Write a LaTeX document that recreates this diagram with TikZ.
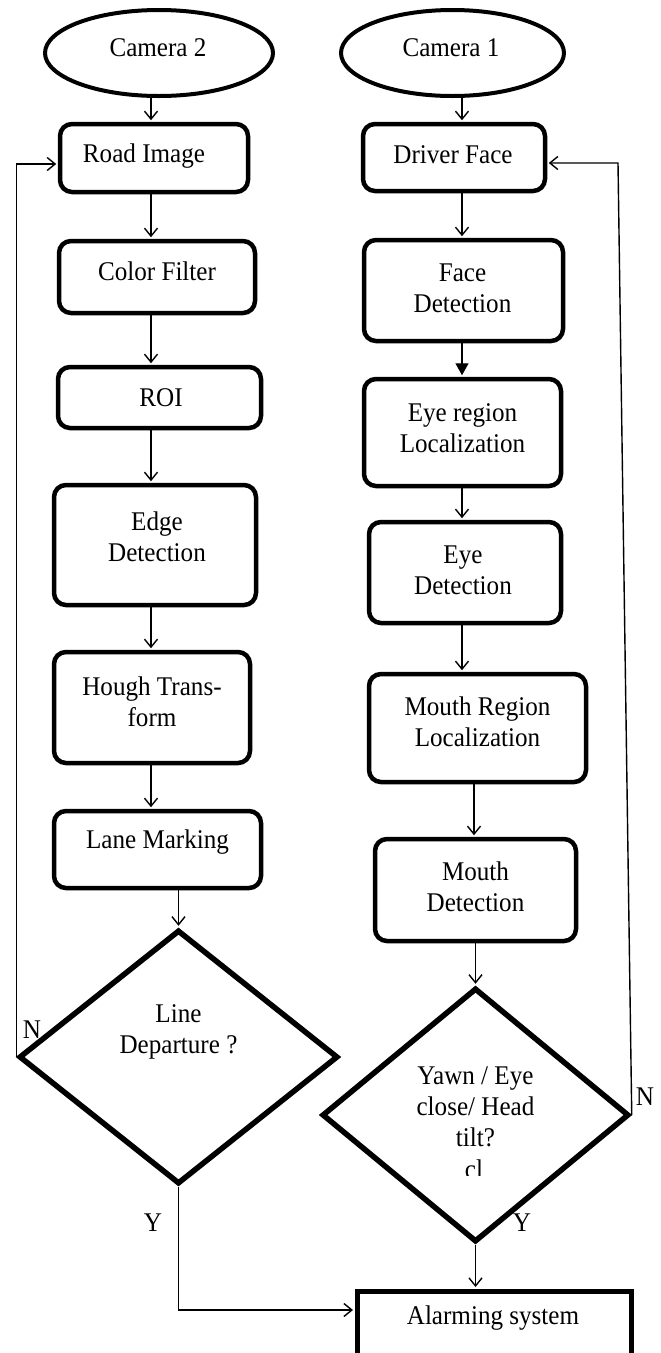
\documentclass[tikz,border=0pt]{standalone}
\usepackage{fontspec}
\setmainfont{Liberation Serif}
\newfontfamily\diafont[FakeStretch=0.93]{Liberation Serif}
\usetikzlibrary{shapes.geometric,arrows.meta}
\tikzset{
  lbl/.style={font=\diafont\fontsize{27}{31}\selectfont, align=center, inner sep=0pt},
  pbox/.style={draw, line width=4.5pt, rounded corners=12pt, inner sep=0pt},
  cam/.style={draw, ellipse, line width=4pt, inner sep=0pt},
  dia/.style={draw, diamond, line width=5.5pt, inner sep=0pt},
  flow/.style={line width=1.4pt, shorten >=1.5pt, -{Straight Barb[length=8pt,width=13pt]}},
  filledflow/.style={line width=1.4pt, shorten >=1.5pt, -{Triangle[length=12pt,width=13pt]}}
}
\begin{document}
\begin{tikzpicture}[x=1pt,y=-1pt]
\useasboundingbox (0,0) rectangle (661,1353);
\fill[white] (0,0) rectangle (661,1353);
\coordinate (lx) at (151,0);
\coordinate (rx) at (462,0);
\coordinate (rx2) at (474,0);

% left column
\node[cam, minimum width=228pt, minimum height=86pt,
  label={[lbl,name=cam2t,xshift=-1pt,yshift=5pt]center:Camera 2}] (cam2) at (159,53) {};
\node[pbox, minimum width=188pt, minimum height=68pt,
  label={[lbl,name=roadt,xshift=-10pt,yshift=2pt]center:Road Image}] (road) at (154,158) {};
\node[pbox, minimum width=196pt, minimum height=72pt,
  label={[lbl,name=colort,yshift=6pt]center:Color Filter}] (color) at (157,277) {};
\node[pbox, minimum width=203pt, minimum height=61pt,
  label={[lbl,name=roit,xshift=1.5pt,yshift=0pt]center:ROI}] (roi) at (159.5,397.5) {};
\node[pbox, minimum width=202pt, minimum height=120pt,
  label={[lbl,name=edget,xshift=2pt,yshift=8pt]center:{Edge\\Detection}}] (edge) at (155,545) {};
\node[pbox, minimum width=196pt, minimum height=111pt,
  label={[lbl,name=hought,yshift=5.5pt]center:{Hough Trans-\\form}}] (hough) at (152,707.5) {};
\node[pbox, minimum width=207pt, minimum height=77pt,
  label={[lbl,name=lanet,yshift=7pt]center:Lane Marking}] (lane) at (157.5,849.5) {};
\node[dia, minimum width=319pt, minimum height=254pt,
  label={[lbl,name=ldiamt,yshift=25pt]center:{Line\\Departure ?}}] (ldiam) at (178.5,1057) {};

% right column
\node[cam, minimum width=223pt, minimum height=86pt,
  label={[lbl,name=cam1t,xshift=-1.5pt,yshift=5pt]center:Camera 1}] (cam1) at (452.5,53) {};
\node[pbox, minimum width=182pt, minimum height=67pt,
  label={[lbl,name=drivert,xshift=-1pt,yshift=3pt]center:Driver Face}] (driver) at (454,157.5) {};
\node[pbox, minimum width=199pt, minimum height=101pt,
  label={[lbl,name=facedett,xshift=-1pt,yshift=2pt]center:{Face\\Detection}}] (facedet) at (463.5,290.5) {};
\node[pbox, minimum width=197pt, minimum height=107pt,
  label={[lbl,name=eyeregt,yshift=4pt]center:{Eye region\\Localization}}] (eyereg) at (462.5,432.5) {};
\node[pbox, minimum width=192pt, minimum height=101pt,
  label={[lbl,name=eyedett,xshift=-2pt,yshift=2pt]center:{Eye\\Detection}}] (eyedet) at (465,572.5) {};
\node[pbox, minimum width=217pt, minimum height=108pt,
  label={[lbl,name=mouthregt,yshift=6.5pt]center:{Mouth Region\\Localization}}] (mouthreg) at (477.5,728) {};
\node[pbox, minimum width=201pt, minimum height=102pt,
  label={[lbl,name=mouthdett,yshift=3.5pt]center:{Mouth\\Detection}}] (mouthdet) at (475.5,890) {};
\node[dia, minimum width=307pt, minimum height=254pt,
  label={[lbl,name=ydiamt,yshift=8pt]center:{Yawn / Eye\\close/ Head\\tilt?}}] (ydiam) at (475.5,1115) {};
\begin{scope}
  \clip (440,1150) rectangle (510,1175);
  \node[lbl] (clt) at (474,1169) {cl};
\end{scope}

% alarm
\node[draw, line width=5pt, inner sep=0pt, minimum width=274pt, minimum height=80pt,
  label={[lbl,name=alarmt,xshift=-1pt,yshift=13pt]center:Alarming system}] (alarm) at (494,1331) {};

% connectors left
\draw[flow] (cam2.south -| lx) -- (road.north -| lx);
\draw[flow] (road.south -| lx) -- (color.north -| lx);
\draw[flow] (color.south -| lx) -- (roi.north -| lx);
\draw[flow] (roi.south -| lx) -- (edge.north -| lx);
\draw[flow] (edge.south -| lx) -- (hough.north -| lx);
\draw[flow] (hough.south -| lx) -- (lane.north -| lx);
\draw[flow] (lane.south -| ldiam.north) -- (ldiam.north);
\draw[flow] (ldiam.west) |- ([yshift=-6pt]road.west);
\draw[flow] (ldiam.south) |- ([yshift=21pt]alarm.west);

% connectors right
\draw[flow] (cam1.south -| rx) -- (driver.north -| rx);
\draw[flow] (driver.south -| rx) -- (facedet.north -| rx);
\draw[filledflow] (facedet.south -| rx) -- (eyereg.north -| rx);
\draw[flow] (eyereg.south -| rx) -- (eyedet.north -| rx);
\draw[flow] (eyedet.south -| rx) -- (mouthreg.north -| rx);
\draw[flow] (mouthreg.south -| rx2) -- (mouthdet.north -| rx2);
\draw[flow] (mouthdet.south -| ydiam.north) -- (ydiam.north);
\draw[flow] (ydiam.south) -- (ydiam.south |- alarm.north);
\coordinate (rtop) at (618,163);
\draw[flow] (ydiam.east) -- (rtop) -- (rtop -| driver.east);

% branch labels
\node[lbl] (nl) at (32,1030) {N};
\node[lbl] (yl) at (153,1223) {Y};
\node[lbl] (nr) at (645,1097) {N};
\node[lbl] (yr) at (522,1223) {Y};
\end{tikzpicture}
\end{document}
